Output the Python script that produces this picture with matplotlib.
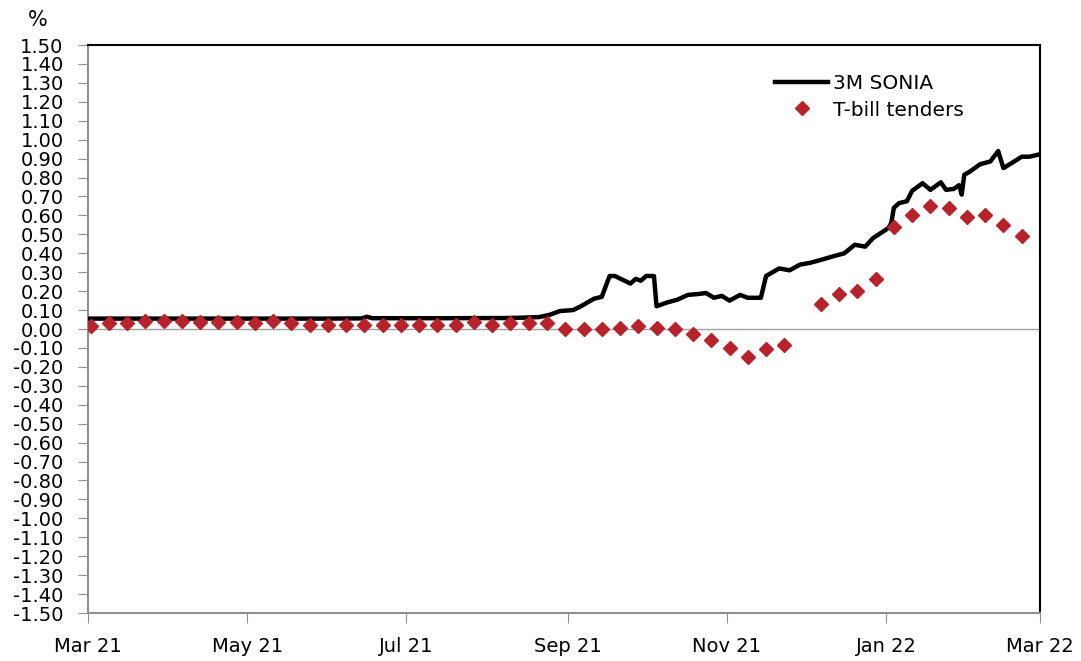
import matplotlib
matplotlib.use("Agg")
import matplotlib.pyplot as plt
import numpy as np
import pandas as pd

# 3M SONIA (irregular sample of the daily series)
sonia_dates = [
    "2021-03-01", "2021-04-15", "2021-06-01", "2021-06-14", "2021-06-16", "2021-06-18",
    "2021-07-15", "2021-08-08", "2021-08-15", "2021-08-21", "2021-08-25", "2021-08-29",
    "2021-09-03", "2021-09-06", "2021-09-11", "2021-09-14", "2021-09-17", "2021-09-19",
    "2021-09-22", "2021-09-25", "2021-09-27", "2021-09-29", "2021-10-01", "2021-10-04",
    "2021-10-05", "2021-10-09", "2021-10-13", "2021-10-17", "2021-10-21", "2021-10-24",
    "2021-10-27", "2021-10-30", "2021-11-02", "2021-11-06", "2021-11-09", "2021-11-14",
    "2021-11-16", "2021-11-21", "2021-11-25", "2021-11-29", "2021-12-03", "2021-12-07",
    "2021-12-12", "2021-12-16", "2021-12-20", "2021-12-24", "2021-12-27", "2022-01-01",
    "2022-01-02", "2022-01-03", "2022-01-04", "2022-01-06", "2022-01-09", "2022-01-11",
    "2022-01-15", "2022-01-18", "2022-01-22", "2022-01-24", "2022-01-27", "2022-01-29",
    "2022-01-30", "2022-01-31", "2022-02-02", "2022-02-06", "2022-02-10", "2022-02-13",
    "2022-02-15", "2022-02-18", "2022-02-22", "2022-02-25", "2022-02-28",
]
sonia_values = [
    0.055, 0.055, 0.055, 0.056, 0.065, 0.057,
    0.057, 0.058, 0.060, 0.063, 0.075, 0.095,
    0.100, 0.120, 0.160, 0.170, 0.280, 0.280,
    0.260, 0.240, 0.265, 0.255, 0.280, 0.280,
    0.120, 0.140, 0.155, 0.180, 0.185, 0.190,
    0.165, 0.175, 0.150, 0.180, 0.165, 0.165,
    0.280, 0.320, 0.310, 0.340, 0.350, 0.365,
    0.385, 0.400, 0.445, 0.435, 0.480, 0.525,
    0.535, 0.560, 0.640, 0.665, 0.675, 0.730,
    0.770, 0.735, 0.775, 0.735, 0.740, 0.760,
    0.710, 0.815, 0.830, 0.870, 0.885, 0.940,
    0.850, 0.875, 0.910, 0.910, 0.920,
]

# weekly T-bill tenders (one week missing at end of Nov)
tender_dates = pd.date_range("2021-03-02", "2022-02-22", freq="7D")
tender_values = [
    0.017, 0.030, 0.032, 0.040, 0.040, 0.040, 0.035, 0.035, 0.035, 0.032,
    0.040, 0.032, 0.020, 0.023, 0.023, 0.023, 0.023, 0.023, 0.023, 0.023,
    0.023, 0.035, 0.023, 0.030, 0.030, 0.032, 0.000, 0.000, 0.000, 0.005,
    0.017, 0.005, 0.000, -0.025, -0.057, -0.100, -0.150, -0.105, -0.083, np.nan,
    0.134, 0.185, 0.200, 0.264, 0.540, 0.600, 0.650, 0.640, 0.590, 0.600,
    0.550, 0.490,
]

month_ticks = ["2021-03-01", "2021-05-01", "2021-07-01", "2021-09-01",
               "2021-11-01", "2022-01-01", "2022-03-01"]
month_labels = ["Mar 21", "May 21", "Jul 21", "Sep 21", "Nov 21", "Jan 22", "Mar 22"]

fig = plt.figure(figsize=(10.81, 6.61), dpi=100)
ax = fig.add_axes([0.0814, 0.0726, 0.8806, 0.8593])

ax.axhline(0, color="#a0a0a0", lw=1, zorder=1)
ax.plot(pd.to_datetime(sonia_dates), sonia_values, color="black", lw=3.2,
        label="3M SONIA", zorder=3)
ax.plot(tender_dates, tender_values, ls="none", marker="D", ms=7,
        color="#b8232b", label="T-bill tenders", zorder=4)

ax.set_xlim(pd.Timestamp("2021-03-01"), pd.Timestamp("2022-03-01"))
ax.set_ylim(-1.5, 1.5)
ax.set_yticks(np.round(np.arange(-1.5, 1.501, 0.1), 2))
ax.yaxis.set_major_formatter(plt.FuncFormatter(lambda v, p: f"{v:.2f}".replace("-0.00", "0.00")))
ax.set_xticks(pd.to_datetime(month_ticks))
ax.set_xticklabels(month_labels)

ax.tick_params(axis="y", direction="out", length=7.5, color="#909090",
               labelsize=14, pad=10)
ax.tick_params(axis="x", direction="out", length=7.5, color="#909090",
               labelsize=14, pad=10)
for side in ["left", "bottom"]:
    ax.spines[side].set_color("#909090")
    ax.spines[side].set_linewidth(1.5)
for side in ["top", "right"]:
    ax.spines[side].set_color("black")
    ax.spines[side].set_linewidth(1.5)

fig.text(0.026, 0.97, "%", fontsize=15, ha="left", va="center")

ax.legend(loc="upper left", bbox_to_anchor=(0.703, 0.98), frameon=False,
          fontsize=14.5, handlelength=2.6, labelspacing=0.35, handletextpad=0.25)

fig.savefig("out.png", dpi=100)
